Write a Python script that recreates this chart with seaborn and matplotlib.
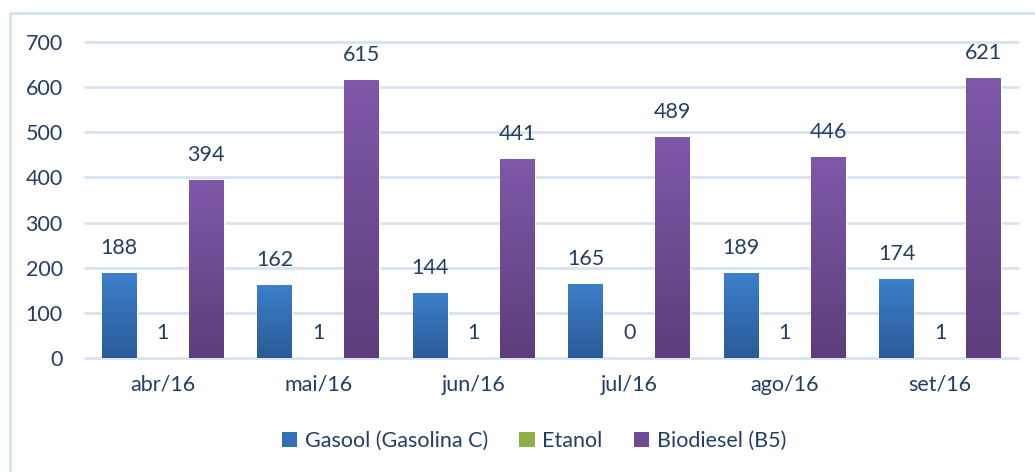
import matplotlib
matplotlib.use("Agg")
import matplotlib.pyplot as plt
import seaborn as sns
import numpy as np
import pandas as pd
from matplotlib.patches import Rectangle, Patch
from matplotlib.colors import LinearSegmentedColormap

months = ["abr/16", "mai/16", "jun/16", "jul/16", "ago/16", "set/16"]
series = ["Gasool (Gasolina C)", "Etanol", "Biodiesel (B5)"]
gasool = [188, 162, 144, 165, 189, 174]
etanol = [1, 1, 1, 0, 1, 1]
biodiesel = [394, 615, 441, 489, 446, 621]
yticks = [0, 100, 200, 300, 400, 500, 600, 700]

top_colors = ["#3C7FCC", "#9DC453", "#7F58A9"]
bot_colors = ["#2B5B97", "#7C9E3E", "#5D3E7B"]
mid_colors = ["#3570B6", "#8DB048", "#6E4B93"]
text_color = "#233E66"
grid_color = "#D8E3F2"

sns.set_theme(style="white")
plt.rcParams['font.family'] = ['Lato', 'DejaVu Sans']

df = pd.DataFrame({
    "mes": months * 3,
    "serie": np.repeat(series, len(months)),
    "valor": gasool + etanol + biodiesel,
})

W, H = 1035, 472
fig = plt.figure(figsize=(W / 100, H / 100), dpi=100)
ax = fig.add_axes([85 / W, 1 - 358 / H, (1018 - 85) / W, 316 / H])

sns.barplot(data=df, x="mes", y="valor", hue="serie", order=months,
            hue_order=series, palette=mid_colors, width=0.84, gap=0.2,
            ax=ax, legend=False, errorbar=None, saturation=1)

ax.set_ylim(0, 700)
xlim = ax.get_xlim()

fs = 15.5
for ci, cont in enumerate(ax.containers):
    cmap = LinearSegmentedColormap.from_list("g", [bot_colors[ci], top_colors[ci]])
    vals = [gasool, etanol, biodiesel][ci]
    for patch, v in zip(cont.patches, vals):
        x, w, h = patch.get_x(), patch.get_width(), patch.get_height()
        if h > 0:
            grad = np.linspace(1, 0, 100).reshape(-1, 1)
            im = ax.imshow(grad, extent=[x, x + w, 0, h], cmap=cmap,
                           aspect='auto', zorder=patch.get_zorder() + 0.1,
                           origin='upper')
            im.set_clip_path(patch)
        ax.annotate(str(v), (x + w / 2, h), xytext=(0, 18),
                    textcoords='offset points', ha='center', va='center',
                    fontsize=fs, color=text_color)

ax.set_xlim(xlim)
ax.set_ylim(0, 700)
ax.set_yticks(yticks)
ax.set_xlabel("")
ax.set_ylabel("")
for s in ax.spines.values():
    s.set_visible(False)
ax.yaxis.grid(True, color=grid_color, lw=2)
ax.set_axisbelow(True)
for line in ax.get_ygridlines():
    line.set_clip_on(False)
ax.tick_params(axis='y', length=0, pad=16, labelsize=fs, labelcolor=text_color)
ax.tick_params(axis='x', length=0, pad=12, labelsize=fs, labelcolor=text_color)

handles = [Patch(facecolor=c, edgecolor='none') for c in mid_colors]
fig.legend(handles, series, loc='center', bbox_to_anchor=(534 / W, 1 - 441 / H),
           ncol=3, frameon=False, fontsize=fs, handlelength=0.72,
           handleheight=0.72, columnspacing=1.45, handletextpad=0.35,
           labelcolor=text_color)

fig.patches.append(Rectangle((9.5 / W, -0.1), 1.2, 1.1 - 12.5 / H,
                             transform=fig.transFigure, fill=False,
                             edgecolor=grid_color, lw=2, zorder=0))

fig.savefig("out.png", dpi=100)
